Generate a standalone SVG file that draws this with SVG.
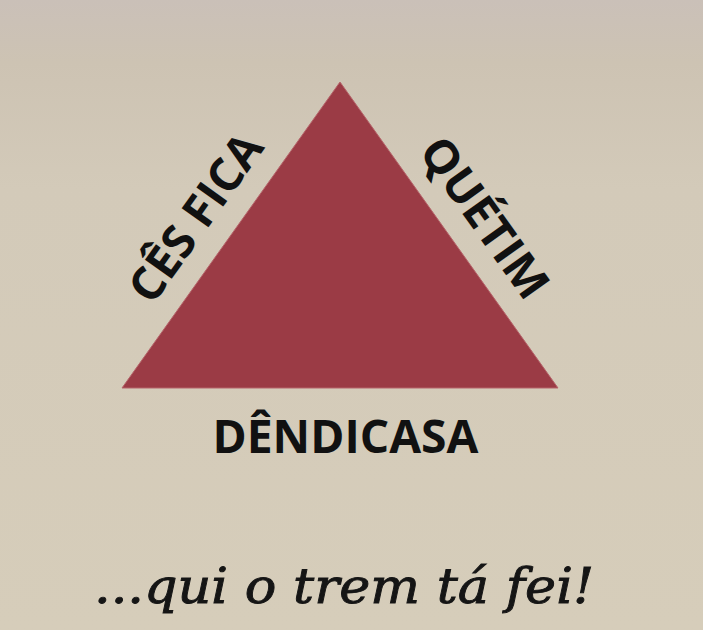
<svg xmlns="http://www.w3.org/2000/svg" width="703" height="630" viewBox="0 0 703 630">
  <defs>
    <linearGradient id="bg" x1="0" y1="0" x2="0" y2="1">
      <stop offset="0" stop-color="#cac0b8"/>
      <stop offset="0.1" stop-color="#cdc3b3"/>
      <stop offset="0.3" stop-color="#d3cab9"/>
      <stop offset="1" stop-color="#d6cdba"/>
    </linearGradient>
    <style>
      .lbl { font-family: "Open Sans", "Liberation Sans", sans-serif; font-weight: 700; font-size: 46px; fill: #111111; }
      .script { font-family: "DejaVu Serif", "Liberation Serif", serif; font-style: italic; font-weight: 400; font-size: 48px; fill: #151515; stroke: #151515; stroke-width: 0.9; }
    </style>
  </defs>
  <rect x="0" y="0" width="703" height="630" fill="url(#bg)"/>
  <g id="triangle">
    <polygon points="340,82 558,388 122,388" fill="#9b3b45" stroke="#b5646a" stroke-width="1"/>
  </g>
  <g id="label-left">
    <text class="lbl" x="208.8" y="226.9" text-anchor="middle" textLength="195" lengthAdjust="spacingAndGlyphs" transform="rotate(-54.53 208.8 226.9)">CÊS FICA</text>
  </g>
  <g id="label-right">
    <text class="lbl" x="471.8" y="227" text-anchor="middle" textLength="186" lengthAdjust="spacingAndGlyphs" transform="rotate(54.53 471.8 227)">QUÉTIM</text>
  </g>
  <g id="label-bottom">
    <text class="lbl" x="345.5" y="453" text-anchor="middle" textLength="266" lengthAdjust="spacingAndGlyphs">DÊNDICASA</text>
  </g>
  <g id="caption">
    <text class="script" x="344" y="603" text-anchor="middle" textLength="500" lengthAdjust="spacingAndGlyphs">...qui o trem tá fei!</text>
  </g>
</svg>
